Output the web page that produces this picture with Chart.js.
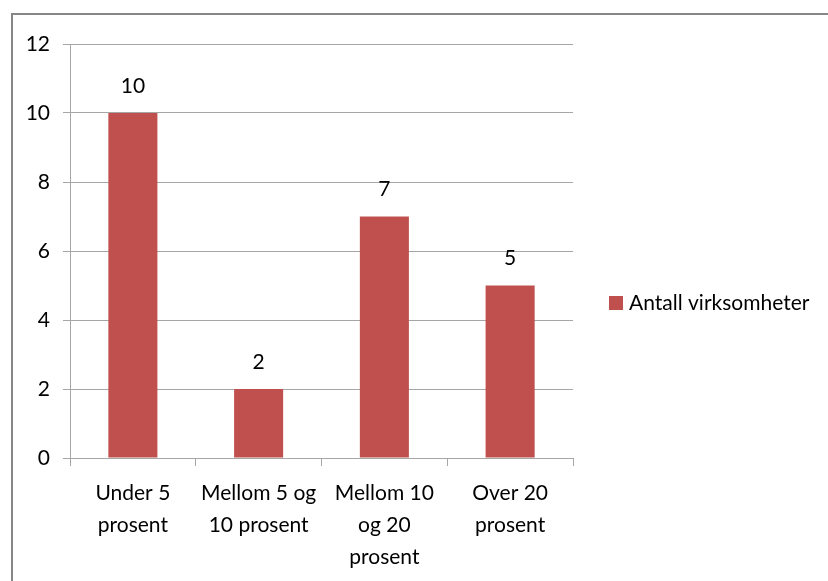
<!DOCTYPE html>
<html>
<head>
<meta charset="utf-8">
<script src="https://cdn.jsdelivr.net/npm/chart.js@4"></script>
<style>
  html, body { margin: 0; padding: 0; background: #fff; overflow: hidden; }
  #wrap { position: relative; width: 828px; height: 581px; }
  #frame {
    position: absolute; left: 11px; top: 13px; right: -10px; bottom: -10px;
    border: 2px solid #878787;
    pointer-events: none;
  }
</style>
</head>
<body>
<div id="wrap">
  <canvas id="chart" width="828" height="581"></canvas>
  <div id="frame"></div>
</div>
<script>
// Andel av omsetning – antall virksomheter per gruppe
const categories = [
  ['Under 5', 'prosent'],
  ['Mellom 5 og', '10 prosent'],
  ['Mellom 10', 'og 20', 'prosent'],
  ['Over 20', 'prosent']
];
const seriesLabel = 'Antall virksomheter';
const seriesValues = [10, 2, 7, 5];
const yTicks = { min: 0, max: 12, step: 2 };

const FONT = 'Lato, "Open Sans", sans-serif';
const FONT_SIZE = 21;
const BAR_COLOR = '#c0504d';
const GRID_COLOR = '#a6a6a6';

// verdien skrives over hver søyle
const valueLabels = {
  id: 'valueLabels',
  afterDatasetsDraw(chart) {
    const ctx = chart.ctx;
    const meta = chart.getDatasetMeta(0);
    ctx.save();
    ctx.font = FONT_SIZE + 'px ' + FONT;
    ctx.fillStyle = '#000';
    ctx.textAlign = 'center';
    ctx.textBaseline = 'middle';
    meta.data.forEach((bar, i) => {
      ctx.fillText(String(chart.data.datasets[0].data[i]), bar.x, bar.y - 27);
    });
    ctx.restore();
  }
};

// enkel forklaring til høyre for plottet
const sideLegend = {
  id: 'sideLegend',
  afterDraw(chart) {
    const ctx = chart.ctx;
    const ds = chart.data.datasets[0];
    const x = chart.chartArea.right + 36;
    const y = 303;
    ctx.save();
    ctx.fillStyle = ds.backgroundColor;
    ctx.fillRect(x, y - 7, 14, 14);
    ctx.font = FONT_SIZE + 'px ' + FONT;
    ctx.fillStyle = '#000';
    ctx.textAlign = 'left';
    ctx.textBaseline = 'middle';
    ctx.fillText(ds.label, x + 20, y);
    ctx.restore();
  }
};

new Chart(document.getElementById('chart'), {
  type: 'bar',
  data: {
    labels: categories,
    datasets: [{
      label: seriesLabel,
      data: seriesValues,
      backgroundColor: BAR_COLOR,
      borderWidth: 0,
      categoryPercentage: 1,
      barPercentage: 0.39
    }]
  },
  options: {
    responsive: false,
    animation: false,
    layout: { padding: { left: 0, right: 255, top: 44, bottom: 0 } },
    plugins: {
      legend: { display: false },
      tooltip: { enabled: false }
    },
    scales: {
      x: {
        offset: true,
        grid: {
          offset: true,
          drawOnChartArea: false,
          color: GRID_COLOR,
          tickLength: 8
        },
        border: { color: GRID_COLOR, width: 1 },
        ticks: {
          color: '#000',
          font: { family: FONT, size: FONT_SIZE, lineHeight: 1.52 },
          padding: 11,
          maxRotation: 0,
          autoSkip: false
        },
        afterFit(scale) { scale.height = 123; }
      },
      y: {
        min: yTicks.min,
        max: yTicks.max,
        grid: { color: GRID_COLOR, tickLength: 7 },
        border: { color: GRID_COLOR, width: 1 },
        ticks: {
          stepSize: yTicks.step,
          color: '#000',
          font: { family: FONT, size: FONT_SIZE },
          padding: 13
        },
        afterFit(scale) { scale.width = 70; }
      }
    }
  },
  plugins: [valueLabels, sideLegend]
});
</script>
</body>
</html>
